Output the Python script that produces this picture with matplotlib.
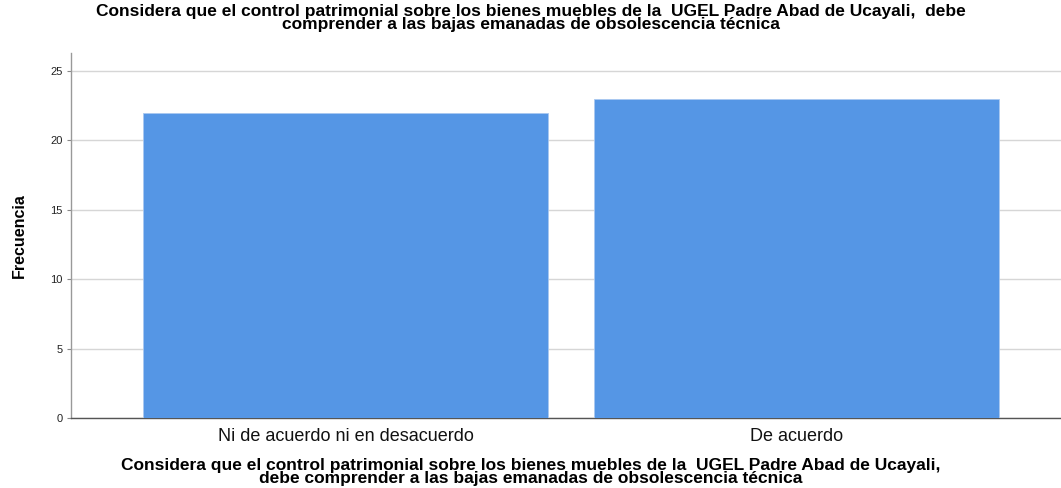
import matplotlib
matplotlib.use("Agg")
import matplotlib.pyplot as plt

categories = ["Ni de acuerdo ni en desacuerdo", "De acuerdo"]
values = [22, 23]
yticks = [0, 5, 10, 15, 20, 25]
title = ("Considera que el control patrimonial sobre los bienes muebles de la  UGEL Padre Abad de Ucayali,  debe\n"
         "comprender a las bajas emanadas de obsolescencia técnica")
xlabel = ("Considera que el control patrimonial sobre los bienes muebles de la  UGEL Padre Abad de Ucayali,\n"
          "debe comprender a las bajas emanadas de obsolescencia técnica")
ylabel = "Frecuencia"

fam = ["Liberation Sans", "DejaVu Sans"]

fig = plt.figure(figsize=(10.61, 4.88), dpi=100)
W, H = 1061, 488
ax = fig.add_axes([71 / W, 1 - 418 / H, (1061 - 71) / W, (418 - 53) / H])

x = list(range(len(categories)))
ax.bar(x, values, width=0.898, color="#5596E5", edgecolor="#A9C8F0", linewidth=0.6, zorder=3)
ax.set_xlim(-0.609, 1.586)
ax.set_ylim(0, 26.3)
ax.set_yticks(yticks)
ax.set_yticklabels([str(t) for t in yticks], fontsize=8, family=fam, color="#222222")
ax.set_xticks(x)
ax.set_xticklabels(categories, fontsize=13, family=fam, color="#111111")
ax.tick_params(axis="x", length=0, pad=7)
ax.tick_params(axis="y", length=3, width=0.8, color="#888888", pad=3)
ax.grid(axis="y", color="#D6D6D6", linewidth=1.0, zorder=0)
for s in ["top", "right"]:
    ax.spines[s].set_visible(False)
ax.spines["left"].set_color("#999999")
ax.spines["left"].set_linewidth(1.0)
ax.spines["bottom"].set_color("#555555")
ax.spines["bottom"].set_linewidth(1.0)

ax.set_ylabel(ylabel, fontsize=11.5, fontweight="bold", family=fam, labelpad=17)
fig.text(0.5, 1 - 18 / H, title, ha="center", va="center", fontsize=12.5,
         fontweight="bold", family=fam, linespacing=0.85)
fig.text(0.5, 1 - 472 / H, xlabel, ha="center", va="center", fontsize=12.5,
         fontweight="bold", family=fam, linespacing=0.85)

fig.savefig("out.png", dpi=100)
